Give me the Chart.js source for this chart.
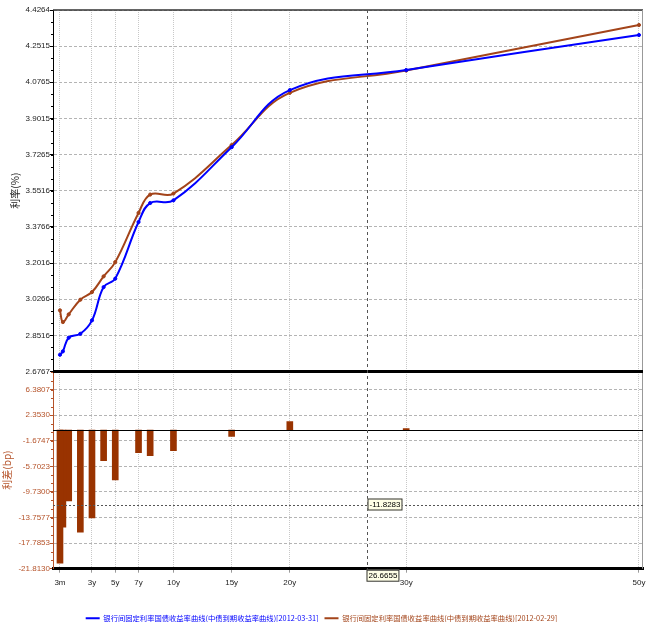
<!DOCTYPE html>
<html>
<head>
<meta charset="utf-8">
<script src="https://cdn.jsdelivr.net/npm/chart.js@4"></script>
<style>
html, body { margin: 0; padding: 0; background: #fff; }
#wrap { width: 654px; height: 622px; }
</style>
</head>
<body>
<div id="wrap"><canvas id="curveChart"></canvas></div>
<script>
// tenors in years
const tenors = [0.25, 0.5, 1, 2, 3, 4, 5, 7, 8, 10, 15, 20, 30, 50];
const rateMar = [2.7576, 2.774, 2.840, 2.859, 2.924, 3.085, 3.126, 3.400, 3.492, 3.505, 3.7624, 4.0387, 4.1356, 4.3053];
const rateFeb = [2.9724, 2.9157, 2.953, 3.024, 3.061, 3.137, 3.206, 3.444, 3.533, 3.538, 3.7724, 4.0254, 4.1334, 4.3538];

const spreadTenors = [0.25, 0.5, 1, 2, 3, 4, 5, 7, 8, 10, 15, 20, 30];
const spreadBp = [-20.95, -15.26, -11.15, -16.05, -13.84, -4.83, -7.83, -3.57, -4.04, -3.25, -1.0, 1.33, 0.22];

const xTickValues = [0.25, 3, 5, 7, 10, 15, 20, 30, 50];
const xTickLabels = ['3m', '3y', '5y', '7y', '10y', '15y', '20y', '30y', '50y'];
const rateTicks = [2.6767, 2.8516, 3.0266, 3.2016, 3.3766, 3.5516, 3.7265, 3.9015, 4.0765, 4.2515, 4.4264];
const bpTicks = [-21.8130, -17.7853, -13.7577, -9.7300, -5.7023, -1.6747, 2.3530, 6.3807];

const legendMar = '银行间固定利率国债收益率曲线(中债到期收益率曲线)[2012-03-31]';
const legendFeb = '银行间固定利率国债收益率曲线(中债到期收益率曲线)[2012-02-29]';

const crossX = 26.6655;
const crossBp = -11.8283;

const BLUE = '#0000ff';
const BROWN = '#a3441a';
const BAR = '#993300';
const AXIS_BROWN = '#b5532a';
const TICK_FONT = { family: 'Liberation Sans', size: 8 };

function fixedTicks(values) {
    return scale => { scale.ticks = values.map(v => ({ value: v })); };
}

// little helper for the value boxes of the crosshair
function valueBox(ctx, text, x, y) {
    ctx.font = '8px "Liberation Sans"';
    const w = ctx.measureText(text).width + 4;
    ctx.fillStyle = '#ffffe6';
    ctx.fillRect(x, y, w, 12);
    ctx.strokeStyle = '#333';
    ctx.lineWidth = 1;
    ctx.setLineDash([]);
    ctx.strokeRect(x + 0.5, y + 0.5, w - 1, 11);
    ctx.fillStyle = '#000';
    ctx.textBaseline = 'middle';
    ctx.textAlign = 'left';
    ctx.fillText(text, x + 2, y + 6.5);
}

const overlay = {
    id: 'overlay',
    afterDraw(chart) {
        const { ctx, chartArea: a, scales } = chart;
        const x = scales.x, yr = scales.yRate, yb = scales.yBp;
        ctx.save();

        // minor ticks on both value axes
        const minor = (scale, ticks, color) => {
            ctx.strokeStyle = color;
            ctx.lineWidth = 1;
            const step = ticks[1] - ticks[0];
            for (let v = ticks[0]; v <= scale.max + 1e-6; v += step / 3) {
                const py = Math.round(scale.getPixelForValue(v)) + 0.5;
                if (py < scale.top - 0.5 || py > scale.bottom + 0.5) continue;
                ctx.beginPath();
                ctx.moveTo(a.left - 2, py);
                ctx.lineTo(a.left, py);
                ctx.stroke();
            }
        };
        minor(yr, rateTicks, '#000');
        minor(yb, bpTicks, AXIS_BROWN);

        // frame
        ctx.strokeStyle = '#333';
        ctx.lineWidth = 1.5;
        ctx.beginPath();
        ctx.moveTo(a.left, a.top);
        ctx.lineTo(a.right, a.top);
        ctx.stroke();
        ctx.strokeStyle = '#999';
        ctx.lineWidth = 1;
        ctx.beginPath();
        ctx.moveTo(a.right - 0.5, a.top);
        ctx.lineTo(a.right - 0.5, a.bottom);
        ctx.stroke();

        // panel separator and zero line
        ctx.strokeStyle = '#000';
        ctx.lineWidth = 3;
        ctx.beginPath();
        ctx.moveTo(a.left, yr.bottom);
        ctx.lineTo(a.right, yr.bottom);
        ctx.stroke();
        const y0 = Math.round(yb.getPixelForValue(0)) + 0.5;
        ctx.lineWidth = 1;
        ctx.beginPath();
        ctx.moveTo(a.left, y0);
        ctx.lineTo(a.right, y0);
        ctx.stroke();

        // crosshair
        const cx = Math.round(x.getPixelForValue(crossX)) + 0.5;
        const cy = Math.round(yb.getPixelForValue(crossBp)) + 0.5;
        ctx.strokeStyle = '#555';
        ctx.setLineDash([3, 3]);
        ctx.beginPath();
        ctx.moveTo(cx, a.top);
        ctx.lineTo(cx, a.bottom);
        ctx.stroke();
        ctx.setLineDash([2, 2]);
        ctx.beginPath();
        ctx.moveTo(a.left, cy);
        ctx.lineTo(a.right, cy);
        ctx.stroke();
        valueBox(ctx, crossBp.toFixed(4), cx, cy - 7);
        valueBox(ctx, crossX.toFixed(4), cx - 1, a.bottom + 1);

        ctx.restore();
    }
};

const ctx = document.getElementById('curveChart').getContext('2d');

new Chart(ctx, {
    type: 'line',
    data: {
        datasets: [{
            label: legendMar,
            data: tenors.map((t, i) => ({ x: t, y: rateMar[i] })),
            yAxisID: 'yRate',
            borderColor: BLUE,
            backgroundColor: BLUE,
            borderWidth: 2,
            pointRadius: 1.6,
            pointBorderWidth: 1,
            tension: 0.4
        }, {
            label: legendFeb,
            data: tenors.map((t, i) => ({ x: t, y: rateFeb[i] })),
            yAxisID: 'yRate',
            borderColor: BROWN,
            backgroundColor: BROWN,
            borderWidth: 2,
            pointRadius: 1.6,
            pointBorderWidth: 1,
            tension: 0.4
        }, {
            type: 'bar',
            label: 'spread',
            // drawn from the long end so the short-end bars sit on top
            data: spreadTenors.map((t, i) => ({ x: t, y: spreadBp[i] })).reverse(),
            yAxisID: 'yBp',
            backgroundColor: BAR,
            barThickness: 6,
            grouped: false
        }]
    },
    options: {
        responsive: true,
        maintainAspectRatio: false,
        animation: false,
        layout: { padding: { top: 10, right: 11, left: 0, bottom: -10 } },
        plugins: {
            tooltip: { enabled: false },
            legend: {
                position: 'bottom',
                labels: {
                    usePointStyle: true,
                    pointStyleWidth: 14,
                    padding: 6,
                    font: { family: 'Noto Sans CJK SC', size: 7.3 },
                    filter: item => item.datasetIndex < 2,
                    generateLabels: chart => chart.data.datasets.slice(0, 2).map((ds, i) => ({
                        text: ds.label,
                        datasetIndex: i,
                        pointStyle: 'line',
                        strokeStyle: ds.borderColor,
                        fillStyle: ds.borderColor,
                        lineWidth: 2,
                        fontColor: ds.borderColor
                    }))
                }
            }
        },
        scales: {
            x: {
                type: 'linear',
                offset: false,
                min: -0.35,
                max: 50.35,
                afterBuildTicks: fixedTicks(xTickValues),
                afterFit: scale => { scale.height = 40; },
                ticks: {
                    autoSkip: false,
                    maxRotation: 0,
                    padding: 5,
                    color: '#222',
                    font: TICK_FONT,
                    callback: (v, i) => xTickLabels[i]
                },
                grid: { offset: false, color: '#c8c8c8', tickLength: 4, tickColor: '#999' },
                border: { color: '#000', width: 3, dash: [1, 1] }
            },
            yRate: {
                type: 'linear',
                position: 'left',
                stack: 'panels',
                stackWeight: 361,
                weight: 2,
                min: 2.6767,
                max: 4.4264,
                afterBuildTicks: fixedTicks(rateTicks),
                afterFit: scale => { scale.width = 53; },
                ticks: {
                    padding: 0,
                    color: '#222',
                    font: TICK_FONT,
                    callback: v => v.toFixed(4)
                },
                grid: { color: '#b4b4b4', tickLength: 3, tickColor: '#000' },
                border: { color: '#000', width: 1, dash: [3, 2] },
                title: {
                    display: true,
                    text: '利率(%)',
                    color: '#222',
                    font: { family: 'Noto Sans CJK SC', size: 10 },
                    padding: { top: 9, bottom: 0 }
                }
            },
            yBp: {
                type: 'linear',
                position: 'left',
                stack: 'panels',
                stackWeight: 197,
                weight: 1,
                min: -21.8130,
                max: 9.224,
                afterBuildTicks: fixedTicks(bpTicks),
                afterFit: scale => { scale.width = 53; },
                ticks: {
                    padding: 0,
                    color: AXIS_BROWN,
                    font: TICK_FONT,
                    callback: v => v.toFixed(4)
                },
                grid: { color: '#b4b4b4', tickLength: 3, tickColor: AXIS_BROWN },
                border: { color: AXIS_BROWN, width: 1, dash: [3, 2] },
                title: {
                    display: true,
                    text: '利差(bp)',
                    color: AXIS_BROWN,
                    font: { family: 'Noto Sans CJK SC', size: 10 },
                    padding: { top: 1, bottom: 0 }
                }
            }
        }
    },
    plugins: [overlay]
});
</script>
</body>
</html>
